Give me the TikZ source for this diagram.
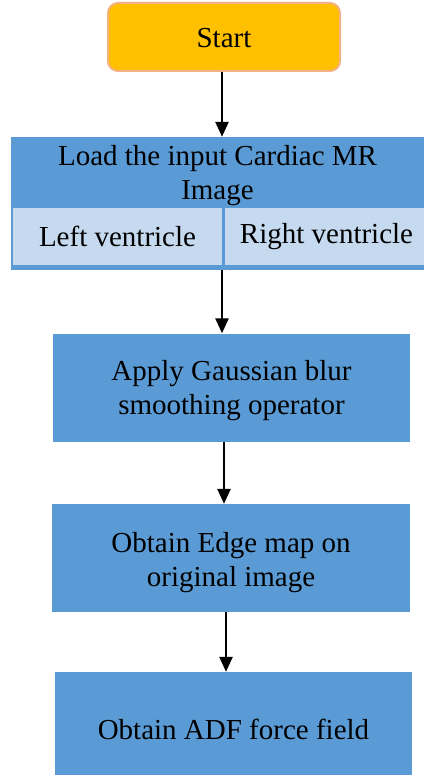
\documentclass[tikz,border=0pt]{standalone}
\usepackage{fontspec}
\setmainfont{Liberation Serif}
\usetikzlibrary{arrows.meta}
\definecolor{boxblue}{HTML}{5B9BD5}
\definecolor{cellblue}{HTML}{C5D9EF}
\definecolor{startfill}{HTML}{FFC000}
\definecolor{startline}{HTML}{F4B183}
\begin{document}
\begin{tikzpicture}[x=1pt,y=-1pt,
  every node/.style={font=\fontsize{29}{34}\selectfont, text=black, inner sep=0pt, align=center},
  bluebox/.style={fill=boxblue, draw=none, minimum width=357pt},
  cellbox/.style={fill=cellblue, draw=none},
  startbox/.style={fill=startfill, draw=startline, line width=2pt, rounded corners=10pt},
  arr/.style={draw=black, line width=2.5pt, -{Triangle[width=13pt,length=15pt]}}
]
\useasboundingbox (0,0) rectangle (424,775);
% start
\node[startbox, minimum width=232pt, minimum height=68pt] (start) at (224,37) {};
\node (starttxt) at (224,38.5) {Start};
% load block
\node[fill=boxblue, minimum width=413pt, minimum height=133pt] (load) at (217.5,203.5) {};
\node (loadtxt) at (217.5,176) {Load the input Cardiac MR\\Image};
\node[cellbox, minimum width=209pt, minimum height=57pt] (left) at (117.5,236.5) {Left ventricle};
\node[cellbox, minimum width=199pt, minimum height=57pt] (right) at (324.5,236.5) {\hspace{4pt}Right ventricle};
% steps
\node[bluebox, minimum height=108pt] (gauss) at (231.5,387.5) {};
\node (gausstxt) at (231.5,391) {Apply Gaussian blur\\smoothing operator};
\node[bluebox, minimum width=358pt, minimum height=108pt] (edge) at (231,558) {};
\node (edgetxt) at (231,563) {Obtain Edge map on\\original image};
\node[bluebox, minimum height=103pt] (adf) at (233.5,723.5) {};
\node (adftxt) at (233.5,729) {Obtain ADF force field};
% arrows
\draw[arr] ([xshift=-2pt]start.south) -- ([xshift=-2pt]start.south |- load.north);
\draw[arr] ([xshift=4.5pt]load.south) -- ([xshift=4.5pt]load.south |- gauss.north);
\draw[arr] ([xshift=-7.5pt]gauss.south) -- ([xshift=-7.5pt]gauss.south |- edge.north);
\draw[arr] ([xshift=-5pt]edge.south) -- ([xshift=-5pt]edge.south |- adf.north);
\end{tikzpicture}
\end{document}
